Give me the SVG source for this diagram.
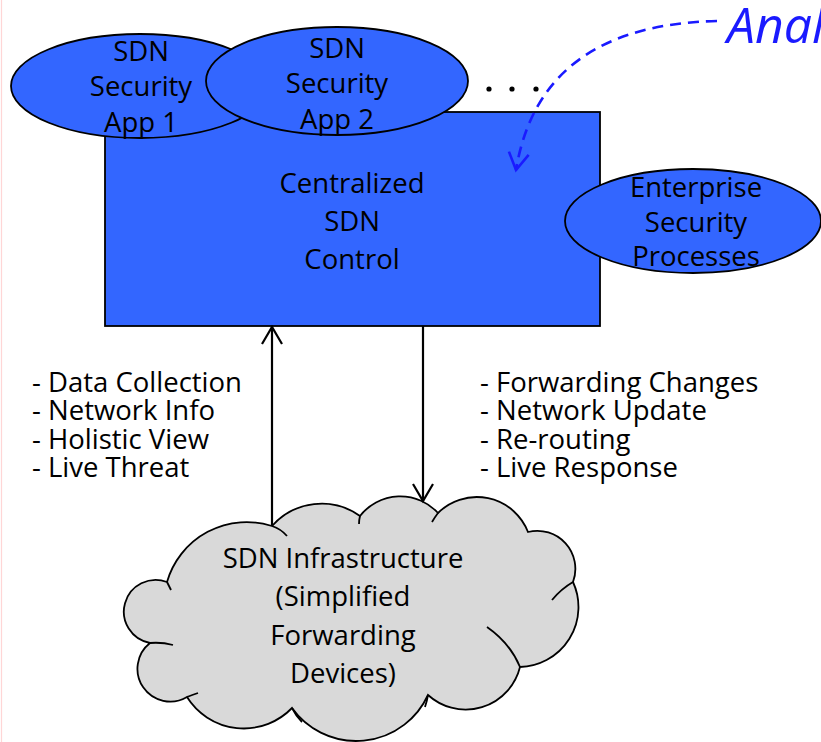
<svg xmlns="http://www.w3.org/2000/svg" width="821" height="742" viewBox="0 0 821 742">
  <style>
    .lbl { font-family: "Open Sans", "Liberation Sans", sans-serif; font-size: 27.5px; fill: #000; }
    .mid { text-anchor: middle; }
    .blue { fill: #3366ff; stroke: #000; stroke-width: 1.8; }
    .cloud { fill: #d9d9d9; stroke: #000; stroke-width: 1.8; }
    .crease { fill: none; stroke: #000; stroke-width: 1.8; }
    .link { fill: none; stroke: #000; stroke-width: 2.2; }
    .dash { fill: none; stroke: #1a1aff; stroke-width: 2.6; stroke-dasharray: 11 7; }
  </style>
  <defs>
    <marker id="head" markerUnits="userSpaceOnUse" markerWidth="40" markerHeight="40" refX="0" refY="0" orient="auto" viewBox="-20 -20 40 40" overflow="visible">
      <path d="M -17 -10 L 0 0 L -17 10" fill="none" stroke="#000" stroke-width="2.2"/>
    </marker>
    <marker id="headBlue" markerUnits="userSpaceOnUse" markerWidth="40" markerHeight="40" refX="0" refY="0" orient="auto" viewBox="-20 -20 40 40" overflow="visible">
      <path d="M -17 -10 L 0 0 L -17 10" fill="none" stroke="#1a1aff" stroke-width="2.6"/>
    </marker>
  </defs>

  <rect width="821" height="742" fill="#ffffff"/>
  <line x1="1.5" y1="0" x2="1.5" y2="742" stroke="#ffd6d6" stroke-width="1.2"/>

  <!-- central controller -->
  <g id="control">
    <rect class="blue" x="105" y="112" width="495" height="214"/>
    <text class="lbl mid" x="352" y="193">Centralized</text>
    <text class="lbl mid" x="352" y="231">SDN</text>
    <text class="lbl mid" x="352" y="269">Control</text>
  </g>

  <g id="app1">
    <ellipse class="blue" cx="140" cy="86" rx="129" ry="52"/>
    <text class="lbl mid" x="141" y="61">SDN</text>
    <text class="lbl mid" x="141" y="96">Security</text>
    <text class="lbl mid" x="141" y="132">App 1</text>
  </g>

  <g id="app2">
    <ellipse class="blue" cx="337" cy="81" rx="131" ry="54"/>
    <text class="lbl mid" x="337" y="58">SDN</text>
    <text class="lbl mid" x="337" y="93">Security</text>
    <text class="lbl mid" x="337" y="129">App 2</text>
  </g>

  <g id="more">
    <circle cx="489" cy="89" r="2.6"/>
    <circle cx="512" cy="89" r="2.6"/>
    <circle cx="536" cy="89" r="2.6"/>
  </g>

  <g id="enterprise">
    <ellipse class="blue" cx="693" cy="221" rx="128" ry="52"/>
    <text class="lbl mid" x="696" y="197">Enterprise</text>
    <text class="lbl mid" x="696" y="232">Security</text>
    <text class="lbl mid" x="696" y="266">Processes</text>
  </g>

  <!-- infrastructure cloud -->
  <g id="infrastructure">
    <path class="cloud" d="M 167 582
      A 83 83 0 0 1 272 526
      A 66 66 0 0 1 360 516
      A 51 51 0 0 1 438 513
      A 55 55 0 0 1 528 532
      A 38 38 0 0 1 573 582
      A 60 60 0 0 1 520 667
      A 56 56 0 0 1 428 695
      A 79 79 0 0 1 292 708
      A 67 67 0 0 1 187 697
      A 32.8 32.8 0 0 1 150 643
      A 31.8 31.8 0 1 1 167 582 Z"/>
    <path class="crease" d="M 167 582 Q 169 586 171 590"/>
    <path class="crease" d="M 272 526 Q 281 529 287 536"/>
    <path class="crease" d="M 360 516 Q 359 520 359 524"/>
    <path class="crease" d="M 438 513 Q 435 517 432 522"/>
    <path class="crease" d="M 573 582 Q 561 589 552 600"/>
    <path class="crease" d="M 487 627 Q 510 643 520 667"/>
    <path class="crease" d="M 428 695 Q 427 701 425 707"/>
    <path class="crease" d="M 292 708 Q 296 716 302 722"/>
    <path class="crease" d="M 187 697 Q 192 695 198 693"/>
    <path class="crease" d="M 150 643 Q 162 642 173 645"/>
    <text class="lbl mid" x="343" y="568">SDN Infrastructure</text>
    <text class="lbl mid" x="343" y="606">(Simplified</text>
    <text class="lbl mid" x="343" y="645">Forwarding</text>
    <text class="lbl mid" x="343" y="683">Devices)</text>
  </g>

  <g id="upLabel">
    <text class="lbl" x="32" y="392">- Data Collection</text>
    <text class="lbl" x="32" y="420">- Network Info</text>
    <text class="lbl" x="32" y="449">- Holistic View</text>
    <text class="lbl" x="32" y="477">- Live Threat</text>
  </g>

  <g id="downLabel">
    <text class="lbl" x="480" y="392">- Forwarding Changes</text>
    <text class="lbl" x="480" y="420">- Network Update</text>
    <text class="lbl" x="480" y="449">- Re-routing</text>
    <text class="lbl" x="480" y="477">- Live Response</text>
  </g>

  <g id="analysis">
    <text x="727" y="43" font-family="'Open Sans', 'Liberation Sans', sans-serif" font-style="italic" font-size="50" fill="#1a1aff">Anal</text>
  </g>

  <g id="connectors">
    <line class="link" x1="272" y1="526" x2="272" y2="327" marker-end="url(#head)"/>
    <line class="link" x1="423" y1="326" x2="423" y2="501" marker-end="url(#head)"/>
    <path class="dash" d="M 717 21 Q 540 25 516 170" marker-end="url(#headBlue)"/>
  </g>
</svg>
